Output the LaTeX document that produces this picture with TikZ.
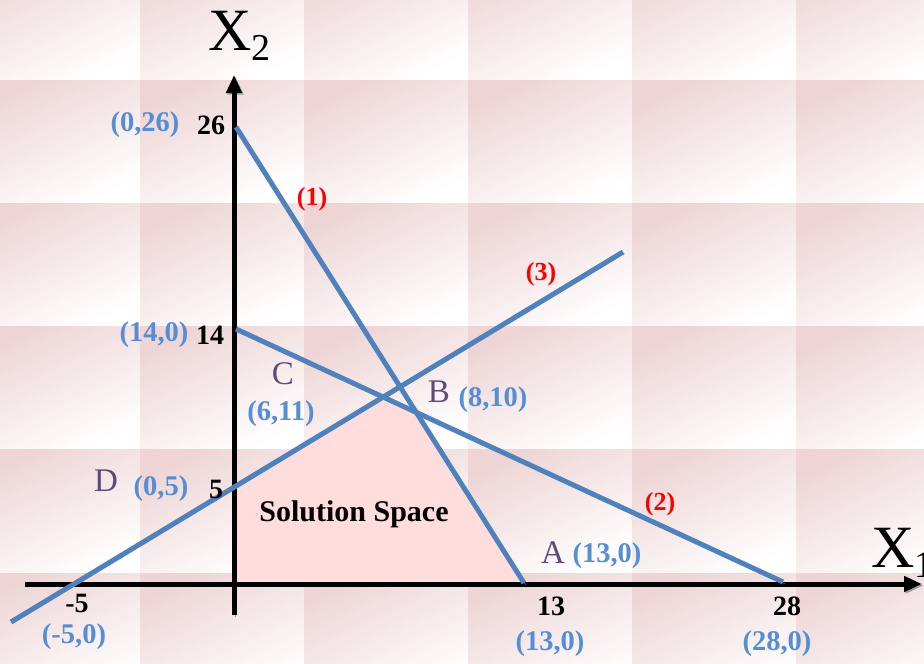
\documentclass[tikz,border=0pt]{standalone}
\usepackage{fontspec}
\setmainfont{Liberation Serif}
\usepackage{tikz}
\usetikzlibrary{arrows.meta,calc}
\definecolor{lineBlue}{RGB}{79,129,189}
\definecolor{labelBlue}{RGB}{85,142,213}
\definecolor{ptPurple}{RGB}{95,73,122}
\definecolor{tilePink}{RGB}{238,212,212}
\definecolor{solPink}{RGB}{255,221,221}

\tikzset{
  tile/.style={shading=axis, top color=tilePink, middle color=tilePink!30!white, bottom color=white, shading angle=25},
  shadowed/.style={preaction={draw=gray!75, transform canvas={shift={(1.6pt,-1.6pt)}}}},
  axisline/.style={draw=black, line width=5pt, shadowed},
  constraint/.style={draw=lineBlue, line width=5pt, shadowed},
  numlbl/.style={inner sep=0pt, font=\bfseries\fontsize{28}{28}\selectfont},
  coordlbl/.style={inner sep=0pt, text=labelBlue, font=\bfseries\fontsize{28.5}{28.5}\selectfont},
  ptlbl/.style={inner sep=0pt, text=ptPurple, font=\fontsize{33}{33}\selectfont},
  eqlbl/.style={inner sep=0pt, text=red, font=\bfseries\fontsize{26}{26}\selectfont},
  axislbl/.style={inner sep=0pt, anchor=base west, font=\fontsize{60}{60}\selectfont}
}
\newcommand{\axsub}[1]{\raisebox{-10pt}{\fontsize{38}{38}\selectfont #1}}

\begin{document}
\begin{tikzpicture}[x=1pt, y=-1pt]
  \useasboundingbox (0,0) rectangle (924,664);

  % background tiles
  \foreach \c in {0,...,5}
    \foreach \r in {0,...,5}
      \shade[tile] ({-24+164*\c},{-43.25+123.25*\r}) rectangle +(164,123.25);

  % points on the axes
  \coordinate (O) at (234,584);
  \coordinate (y26) at (236,127);
  \coordinate (y14) at (236,329);
  \coordinate (x13) at (524,583);
  \coordinate (x28) at (783,582);
  \coordinate (l3s) at (11,622);
  \coordinate (l3e) at (623,252);
  \coordinate (xs) at (25,584);
  \coordinate (xe) at (922,584);
  \coordinate (ys) at (234,615);
  \coordinate (ye) at (234,75);

  % corner points
  \coordinate (D) at (intersection of l3s--l3e and ys--ye);
  \coordinate (C) at (intersection of l3s--l3e and y14--x28);
  \coordinate (B) at (intersection of y26--x13 and y14--x28);

  % solution space
  \fill[solPink] (O) -- (D) -- (C) -- (B) -- (x13) -- cycle;

  % axes
  \draw[axisline, -{Triangle[length=18pt,width=15pt]}] (xs) -- (xe);
  \draw[axisline, -{Triangle[length=18pt,width=15pt]}] (ys) -- (ye);

  % constraints
  \draw[constraint] (y26) -- (x13);
  \draw[constraint] (y14) -- (x28);
  \draw[constraint] (l3s) -- (l3e);

  % axis names
  \node[axislbl] (xtwo) at (208,50) {X\axsub{2}};
  \node[axislbl] (xone) at (871,567) {X\axsub{1}};

  % tick values
  \node[numlbl] (n26) at (211,125) {26};
  \node[numlbl] (n14) at (210,335) {14};
  \node[numlbl] (n5) at (216,489) {5};
  \node[numlbl] (nm5) at (77,603) {-5};
  \node[numlbl] (n13) at (551,606) {13};
  \node[numlbl] (n28) at (787,606) {28};

  % coordinates
  \node[coordlbl] (c026) at (145,125) {(0,26)};
  \node[coordlbl] (c140) at (154,335) {(14,0)};
  \node[coordlbl] (c611) at (281,414) {(6,11)};
  \node[coordlbl] (c05) at (161,489) {(0,5)};
  \node[coordlbl] (c810) at (493,400) {(8,10)};
  \node[coordlbl] (c130a) at (607,556) {(13,0)};
  \node[coordlbl] (cm50) at (74,637) {(-5,0)};
  \node[coordlbl] (c130) at (550,644) {(13,0)};
  \node[coordlbl] (c280) at (777,644) {(28,0)};

  % corner names
  \node[ptlbl] (lC) at (283,374) {C};
  \node[ptlbl] (lB) at (439,392) {B};
  \node[ptlbl] (lD) at (106,481) {D};
  \node[ptlbl] (lA) at (553,553) {A};

  % constraint numbers
  \node[eqlbl] (e1) at (312,199) {(1)};
  \node[eqlbl] (e3) at (541,274) {(3)};
  \node[eqlbl] (e2) at (660,504) {(2)};

  \node[inner sep=0pt, font=\bfseries\fontsize{30}{30}\selectfont] (sol) at (354,514) {Solution Space};
\end{tikzpicture}
\end{document}
